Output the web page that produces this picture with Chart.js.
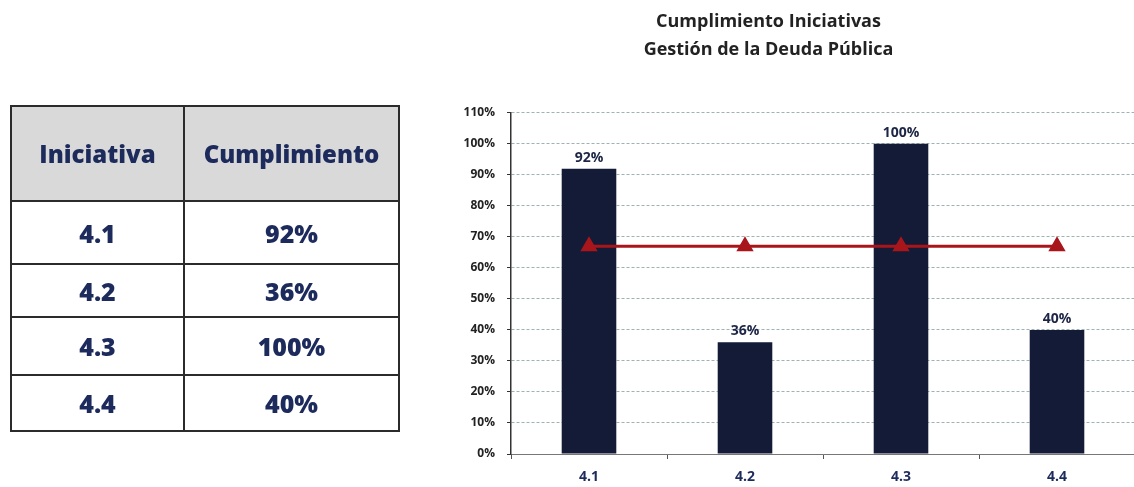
<!DOCTYPE html>
<html>
<head>
<meta charset="utf-8">
<script src="https://cdn.jsdelivr.net/npm/chart.js@4.4.0/dist/chart.umd.min.js"></script>
<style>
  html, body { margin: 0; padding: 0; background: #fff; overflow: hidden; width: 1134px; height: 487px; }
  #tabla {
    position: absolute; left: 10px; top: 105px; z-index: 2;
    border-collapse: collapse; border: 2px solid #2b2b2b;
    font-family: "Open Sans", sans-serif; font-weight: 800; color: #1d2a5c;
  }
  #tabla th, #tabla td { border: 2px solid #2b2b2b; text-align: center; padding: 0; }
  #tabla th { background: #d9d9d9; height: 93px; font-size: 24px; font-weight: 800; }
  #tabla td { font-size: 25px; }
  #wrap { position: absolute; left: 392px; top: 0; width: 753px; height: 487px; z-index: 1; }
</style>
</head>
<body>
<table id="tabla">
  <thead><tr><th style="width:171px">Iniciativa</th><th style="width:213px">Cumplimiento</th></tr></thead>
  <tbody id="cuerpo"></tbody>
</table>
<div id="wrap"><canvas id="chart"></canvas></div>
<script>
var iniciativas = ['4.1', '4.2', '4.3', '4.4'];
var cumplimiento = [92, 36, 100, 40];
var promedio = [67, 67, 67, 67];
var rowHeights = [63, 53, 58, 56];

// tabla de la izquierda
var cuerpo = document.getElementById('cuerpo');
iniciativas.forEach(function (ini, i) {
    var tr = document.createElement('tr');
    tr.style.height = rowHeights[i] + 'px';
    tr.innerHTML = '<td>' + ini + '</td><td>' + cumplimiento[i] + '%</td>';
    cuerpo.appendChild(tr);
});

// etiquetas encima de las barras (dataset 1 = barras)
var barLabels = {
    id: 'barLabels',
    afterDatasetsDraw: function (chart) {
        var ctx = chart.ctx;
        var meta = chart.getDatasetMeta(1);
        ctx.save();
        ctx.font = 'bold 14px "Open Sans", sans-serif';
        ctx.fillStyle = '#1c2545';
        ctx.textAlign = 'center';
        ctx.textBaseline = 'bottom';
        meta.data.forEach(function (bar, i) {
            ctx.fillText(cumplimiento[i] + '%', bar.x, bar.y - 4);
        });
        ctx.restore();
    }
};

var ctx = document.getElementById('chart').getContext('2d');
var myChart = new Chart(ctx, {
    data: {
        labels: iniciativas,
        datasets: [{
            type: 'line',
            label: 'Promedio',
            data: promedio,
            borderColor: '#a8161b',
            backgroundColor: '#a8161b',
            borderWidth: 3,
            pointStyle: 'triangle',
            pointRadius: 7,
            pointHoverRadius: 7,
            order: 0
        }, {
            type: 'bar',
            label: 'Cumplimiento',
            data: cumplimiento,
            backgroundColor: '#131b36',
            barPercentage: 0.35,
            categoryPercentage: 1,
            order: 1
        }]
    },
    options: {
        responsive: true,
        maintainAspectRatio: false,
        animation: false,
        layout: { padding: 0 },
        plugins: {
            legend: { display: false },
            tooltip: { enabled: false },
            title: {
                display: true,
                text: ['Cumplimiento Iniciativas', 'Gestión de la Deuda Pública'],
                color: '#222',
                font: { family: '"Open Sans", sans-serif', size: 18, weight: 'bold', lineHeight: 1.55 },
                padding: { top: 8, bottom: 49 }
            }
        },
        scales: {
            x: {
                afterFit: function (scale) { scale.height = 33; },
                grid: { drawOnChartArea: false, drawTicks: true, tickLength: 5, tickColor: '#555' },
                border: { display: true, color: '#777' },
                ticks: { color: '#1d2a5c', padding: 10, font: { family: '"Open Sans", sans-serif', size: 14, weight: 'bold' } }
            },
            y: {
                min: 0,
                max: 110,
                afterFit: function (scale) { scale.width = 119; },
                grid: { color: '#9fb2b2', tickColor: '#333', tickLength: 4 },
                border: { display: true, color: '#333', width: 1.5, dash: [3, 2] },
                ticks: {
                    stepSize: 10,
                    padding: 12,
                    color: '#222',
                    font: { family: '"Open Sans", sans-serif', size: 12, weight: 'bold' },
                    callback: function (v) { return v + '%'; }
                }
            }
        }
    },
    plugins: [barLabels]
});
</script>
</body>
</html>
